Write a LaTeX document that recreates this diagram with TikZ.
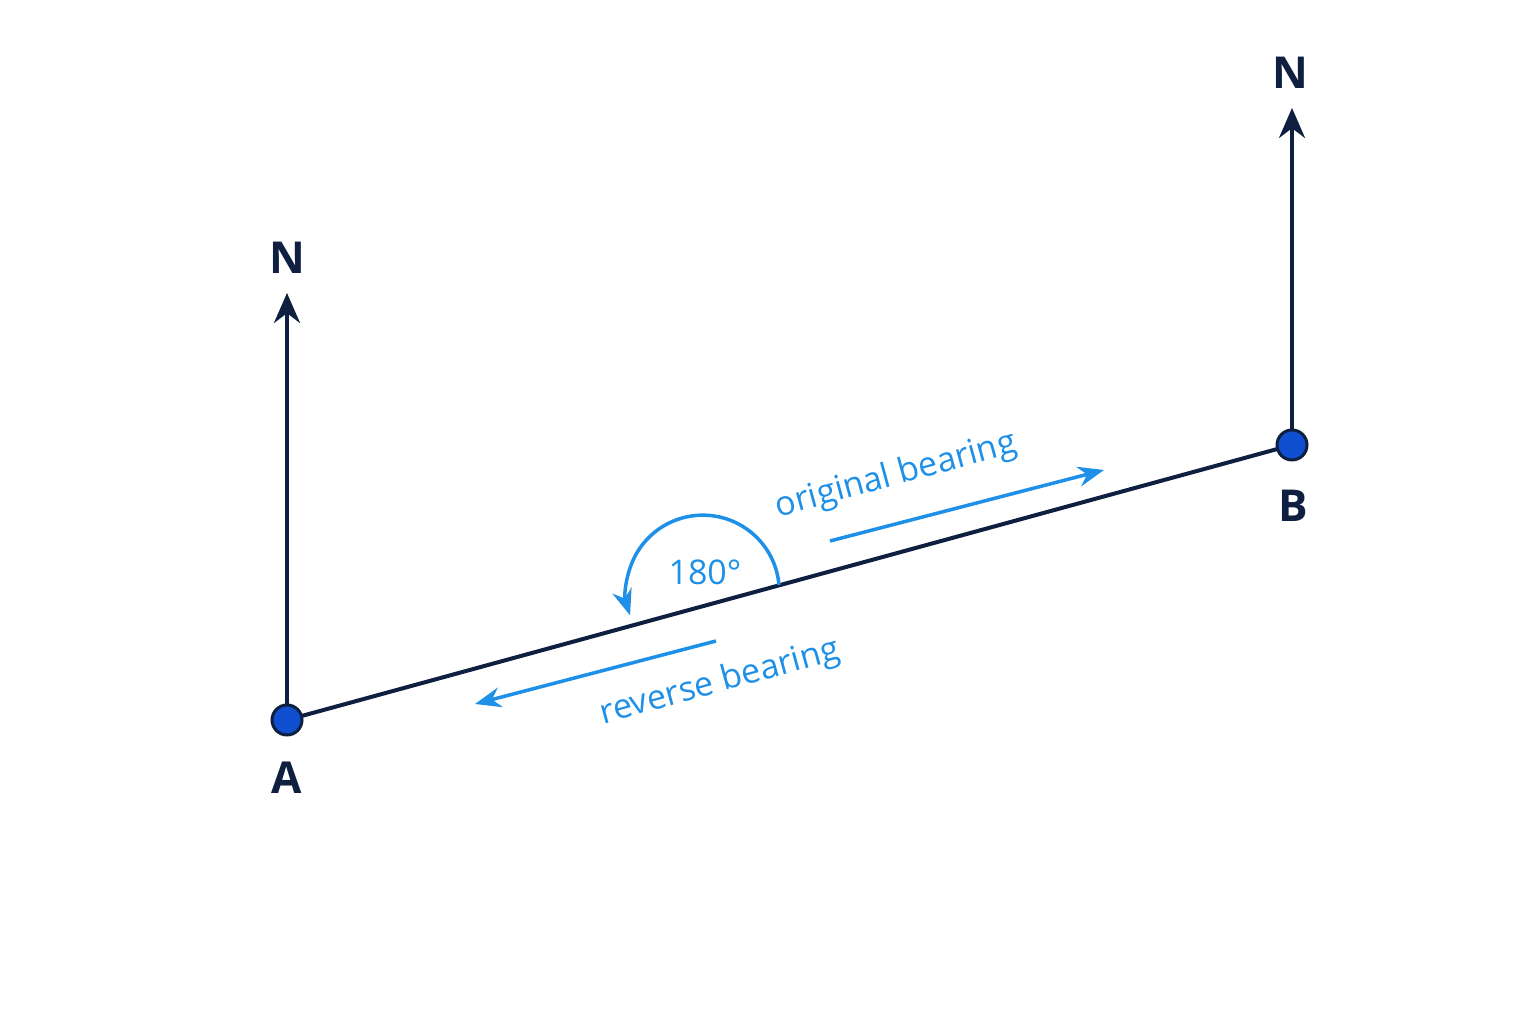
\documentclass[tikz,border=0pt]{standalone}
\usepackage{fontspec}
\setmainfont{Open Sans}
\usetikzlibrary{arrows.meta}
\definecolor{navy}{HTML}{0F1F40}
\definecolor{lblue}{HTML}{1E90E8}
\definecolor{dot}{HTML}{1050D0}
\begin{document}
\begin{tikzpicture}[x=1pt,y=1pt,
  ptdot/.style={circle,draw=navy,fill=dot,line width=3pt,minimum size=30pt,inner sep=0pt},
  lbl/.style={font=\fontsize{44}{50}\selectfont\bfseries,text=navy},
  btxt/.style={font=\fontsize{34}{40}\selectfont,text=lblue},
  narrow/.style={-{Stealth[length=30pt,width=26pt]},navy,line width=3.5pt},
  barrow/.style={-{Stealth[length=26pt,width=20pt]},lblue,line width=3.5pt}]
\useasboundingbox (0,0) rectangle (1536,1024);
\fill[white] (0,0) rectangle (1536,1024);
\coordinate (NA) at (287,731);
\coordinate (NB) at (1292,916);
\draw[narrow] (287,304) -- (NA);
\draw[narrow] (1292,579) -- (NB);
\draw[navy,line width=4pt] (287,304) -- (1292,579);
\node[ptdot] (A) at (287,304) {};
\node[ptdot] (B) at (1292,579) {};
\node[lbl] (nA) at (287,766) {N};
\node[lbl] (nB) at (1290,951) {N};
\node[lbl] (la) at (287,246) {A};
\node[lbl] (lb) at (1293,518) {B};
\coordinate (o1) at (830,483); \coordinate (o2) at (1104,554);
\draw[barrow] (o1) -- (o2);
\coordinate (r1) at (716,383); \coordinate (r2) at (475,320);
\draw[barrow] (r1) -- (r2);
\node[btxt,rotate=15.3] (ot) at (896,548) {original bearing};
\node[btxt,rotate=15.3] (rt) at (720,341) {reverse bearing};
\draw[barrow] (779,439) arc[start angle=5,end angle=198,radius=76.5];
\node[btxt] (deg) at (705,452) {180°};
\end{tikzpicture}
\end{document}
